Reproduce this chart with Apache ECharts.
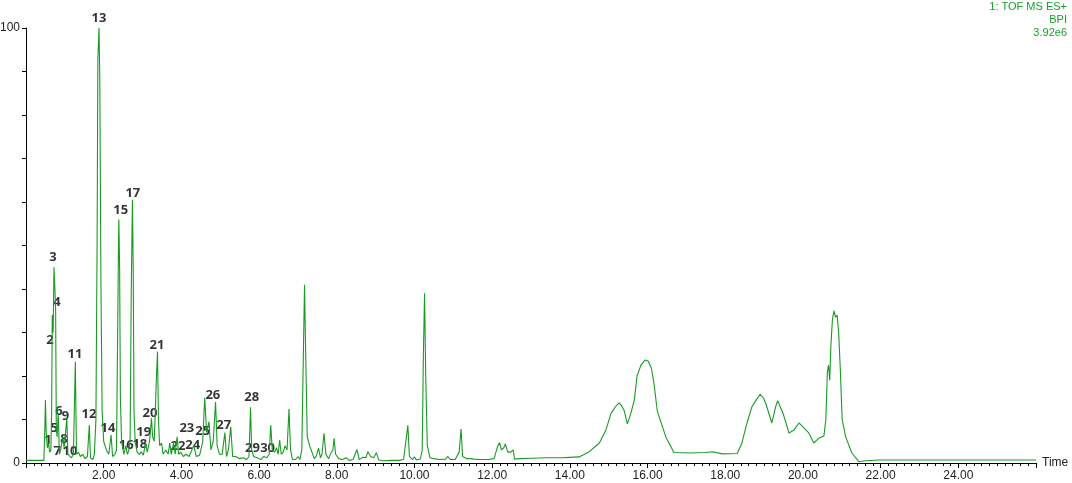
<!DOCTYPE html>
<html>
<head>
<meta charset="utf-8">
<script src="https://cdn.jsdelivr.net/npm/echarts@6/dist/echarts.min.js"></script>
<style>
html,body{margin:0;padding:0;background:#fff;}
#chart{width:1072px;height:483px;}
</style>
</head>
<body>
<div id="chart"></div>
<script>
// Retention time (min)
const times = [
0.00,0.40,0.46,0.48,0.50,0.52,0.55,0.58,0.61,0.64,0.66,0.676,0.70,0.72,0.745,0.763,0.78,0.80,0.83,0.86,
0.89,0.92,0.95,0.98,1.00,1.05,1.08,1.12,1.17,1.22,1.27,1.30,1.35,1.40,1.46,1.52,1.58,1.63,1.66,1.72,
1.76,1.80,1.83,1.85,1.88,1.90,1.93,1.96,2.00,2.07,2.13,2.19,2.23,2.29,2.33,2.36,2.38,2.39,2.41,2.43,
2.46,2.52,2.57,2.61,2.65,2.68,2.71,2.74,2.76,2.78,2.81,2.86,2.92,2.97,3.02,3.08,3.12,3.18,3.23,3.26,
3.30,3.33,3.35,3.385,3.41,3.44,3.49,3.53,3.60,3.66,3.70,3.74,3.80,3.84,3.89,3.93,3.98,4.05,4.12,4.20,
4.32,4.38,4.47,4.55,4.60,4.65,4.71,4.76,4.82,4.88,4.92,4.98,5.05,5.12,5.16,5.21,5.27,5.32,5.40,5.50,
5.59,5.68,5.74,5.78,5.81,5.86,5.95,6.05,6.12,6.20,6.26,6.30,6.34,6.40,6.45,6.49,6.53,6.57,6.62,6.67,
6.72,6.77,6.81,6.86,6.94,7.00,7.05,7.10,7.14,7.17,7.20,7.24,7.30,7.36,7.42,7.47,7.53,7.58,7.62,7.67,
7.72,7.79,7.86,7.90,7.93,7.97,8.05,8.15,8.24,8.32,8.42,8.52,8.58,8.67,8.75,8.80,8.87,8.95,9.02,9.08,
9.20,9.40,9.60,9.72,9.83,9.87,9.95,10.00,10.05,10.15,10.20,10.23,10.26,10.29,10.33,10.40,10.50,10.65,10.80,10.86,
10.92,11.05,11.15,11.20,11.24,11.35,11.44,11.48,11.53,11.70,11.90,12.05,12.14,12.19,12.24,12.30,12.34,12.40,12.48,12.54,
12.58,12.70,13.00,13.40,13.80,14.00,14.24,14.50,14.76,14.93,15.06,15.18,15.27,15.33,15.40,15.48,15.57,15.66,15.73,15.83,
15.94,16.02,16.10,16.17,16.25,16.47,16.68,17.07,17.50,17.67,17.93,18.31,18.43,18.56,18.69,18.80,18.90,18.98,19.04,19.20,
19.30,19.35,19.49,19.64,19.77,19.90,20.03,20.15,20.28,20.41,20.54,20.59,20.63,20.66,20.69,20.72,20.76,20.80,20.84,20.88,
20.92,20.96,21.01,21.10,21.26,21.44,21.61,21.95,23.00,24.00,25.00,26.00
];
// Relative intensity (%)
const intensity = [
0.6,0.6,0.6,6,14.5,7,3.5,4.5,2.5,3,12,34,30,45,39.8,35,8,6,11.5,2,
3,3,6,3.5,5,10.3,2,2,1.2,2,23.3,2,2.5,1.5,2,1,1.5,8.7,1.2,0.8,
2,10,50,93,100,88,40,12,5,3,2,6.4,1.5,2,3,30,50,56,45,15,
5,2,4,2,3,5,40,60.5,45,12,5,2.5,2,2.6,1.8,4.6,2.5,5,10.3,6,
5,12,18,25.6,10,4,4.6,2,3,2,4.6,2,4.6,2,6,2,2.5,1.5,2,1.5,
4.1,1.5,1.8,5,15,7,9.5,3,5,14,4,2,2,7,1.5,3,8.3,1.5,1.5,1,
1.2,0.8,1.5,12.8,3,1.5,1.2,0.8,1.5,1.2,2,8.7,3,2.5,3.5,2,5.3,2,2.5,4,
3,12.4,3,0.8,0.8,1.5,0.8,3,25,41,25,6,4,2.5,1,1.5,3.4,1.2,2,6.8,
2,1,2.5,3,5.7,2,1,0.8,1.2,0.6,0.8,3.1,0.8,1.3,1.2,2.6,1.5,1.2,2.4,0.7,
0.5,0.6,0.6,0.8,8.7,1.5,0.8,1.4,0.7,0.9,3,25,39,20,4,1.2,1,0.8,0.9,1.5,
0.8,0.8,2.5,7.8,1.5,1,1,1.4,0.9,0.8,0.8,1,3.8,4.7,3,3.5,4.4,2.5,2.5,3,
0.9,1,1.1,1.2,1.2,1.3,1.4,2.6,4.6,7.6,11.4,13,13.8,13.2,12,9,11.4,14.5,20,22.5,
23.7,23.4,21.8,18,12,6,2.4,2.3,2.4,2.6,2.1,2.2,4.6,9.2,13,14.5,15.8,15,13.8,9.2,
13,14.3,11.4,6.9,7.6,9.2,8,6.9,4.6,5.7,6.2,10,21,22.5,19,27,33,35,33.5,34,
30,22,10,6,2.3,0.3,0.5,0.7,0.7,0.7,0.7,0.7
];
// Peak numbers and label anchor positions (time, %)
const peakNames = ['1','2','3','4','5','6','7','8','9','10','11','12','13','14','15','16','17','18','19','20','21','22','23','24','25','26','27','28','29','30'];
const peakLabelTime = [0.566,0.617,0.694,0.797,0.727,0.848,0.805,0.977,1.015,1.13,1.26,1.62,1.877,2.108,2.44,2.58,2.75,2.93,3.03,3.19,3.37,3.91,4.14,4.29,4.55,4.81,5.09,5.81,5.83,6.22];
const peakLabelValue = [5.3,28.3,47.4,37,8,12,2.8,5.5,10.8,2.8,25,11.3,102.3,8,58,4.1,62,4.4,7.1,11.5,27,3.9,8,4.1,7.4,15.6,8.7,15,3.4,3.4];
// Axis / header text
const xTickStep = 2;
const yTickStep = 10;
const headerLines = ['1: TOF MS ES+','BPI','3.92e6'];

const lineData = times.map((t,i)=>[t,intensity[i]]);
const labelData = peakNames.map((n,i)=>({name:n,value:[peakLabelTime[i],peakLabelValue[i]]}));

const chart = echarts.init(document.getElementById('chart'));
chart.setOption({
  animation:false,
  grid:{left:26,right:36,top:28,bottom:20,containLabel:false,outerBoundsMode:'none'},
  xAxis:{
    type:'value',min:0,max:26,interval:xTickStep,
    name:'Time',nameLocation:'end',nameGap:6,
    nameTextStyle:{color:'#222',fontFamily:'Liberation Sans',fontSize:12},
    axisLine:{show:true,onZero:false,lineStyle:{color:'#000',width:1}},
    axisTick:{show:true,inside:false,length:5,lineStyle:{color:'#000'}},
    minorTick:{show:true,splitNumber:10,length:3,lineStyle:{color:'#000'}},
    splitLine:{show:false},
    axisLabel:{color:'#222',fontFamily:'Liberation Sans',fontSize:12,margin:7,
      formatter:v=>(v===0||v===26)?'':v.toFixed(2)}
  },
  yAxis:{
    type:'value',min:0,max:100,interval:yTickStep,
    name:'%',nameLocation:'middle',nameGap:10,nameRotate:90,
    nameTextStyle:{color:'#222',fontFamily:'Liberation Sans',fontSize:11},
    axisLine:{show:true,lineStyle:{color:'#000',width:1}},
    axisTick:{show:true,inside:false,length:4,lineStyle:{color:'#000'}},
    splitLine:{show:false},
    axisLabel:{color:'#222',fontFamily:'Liberation Sans',fontSize:12,margin:6,
      formatter:v=>(v===0||v===100)?String(v):''}
  },
  graphic:headerLines.map((s,i)=>({
    type:'text',right:5,top:1+i*13,
    style:{text:s,fill:'#1a9e2a',font:'11px "Liberation Sans"'}
  })),
  series:[
    {type:'line',data:lineData,showSymbol:false,symbol:'none',
     lineStyle:{color:'#1a9a24',width:1.1},silent:true},
    {type:'scatter',data:labelData,symbolSize:1,clip:false,
     itemStyle:{color:'rgba(0,0,0,0)'},
     label:{show:true,position:'inside',formatter:p=>p.name,color:'#000',
       fontFamily:'Open Sans',fontWeight:'bold',fontSize:13}}
  ]
});
</script>
</body>
</html>
